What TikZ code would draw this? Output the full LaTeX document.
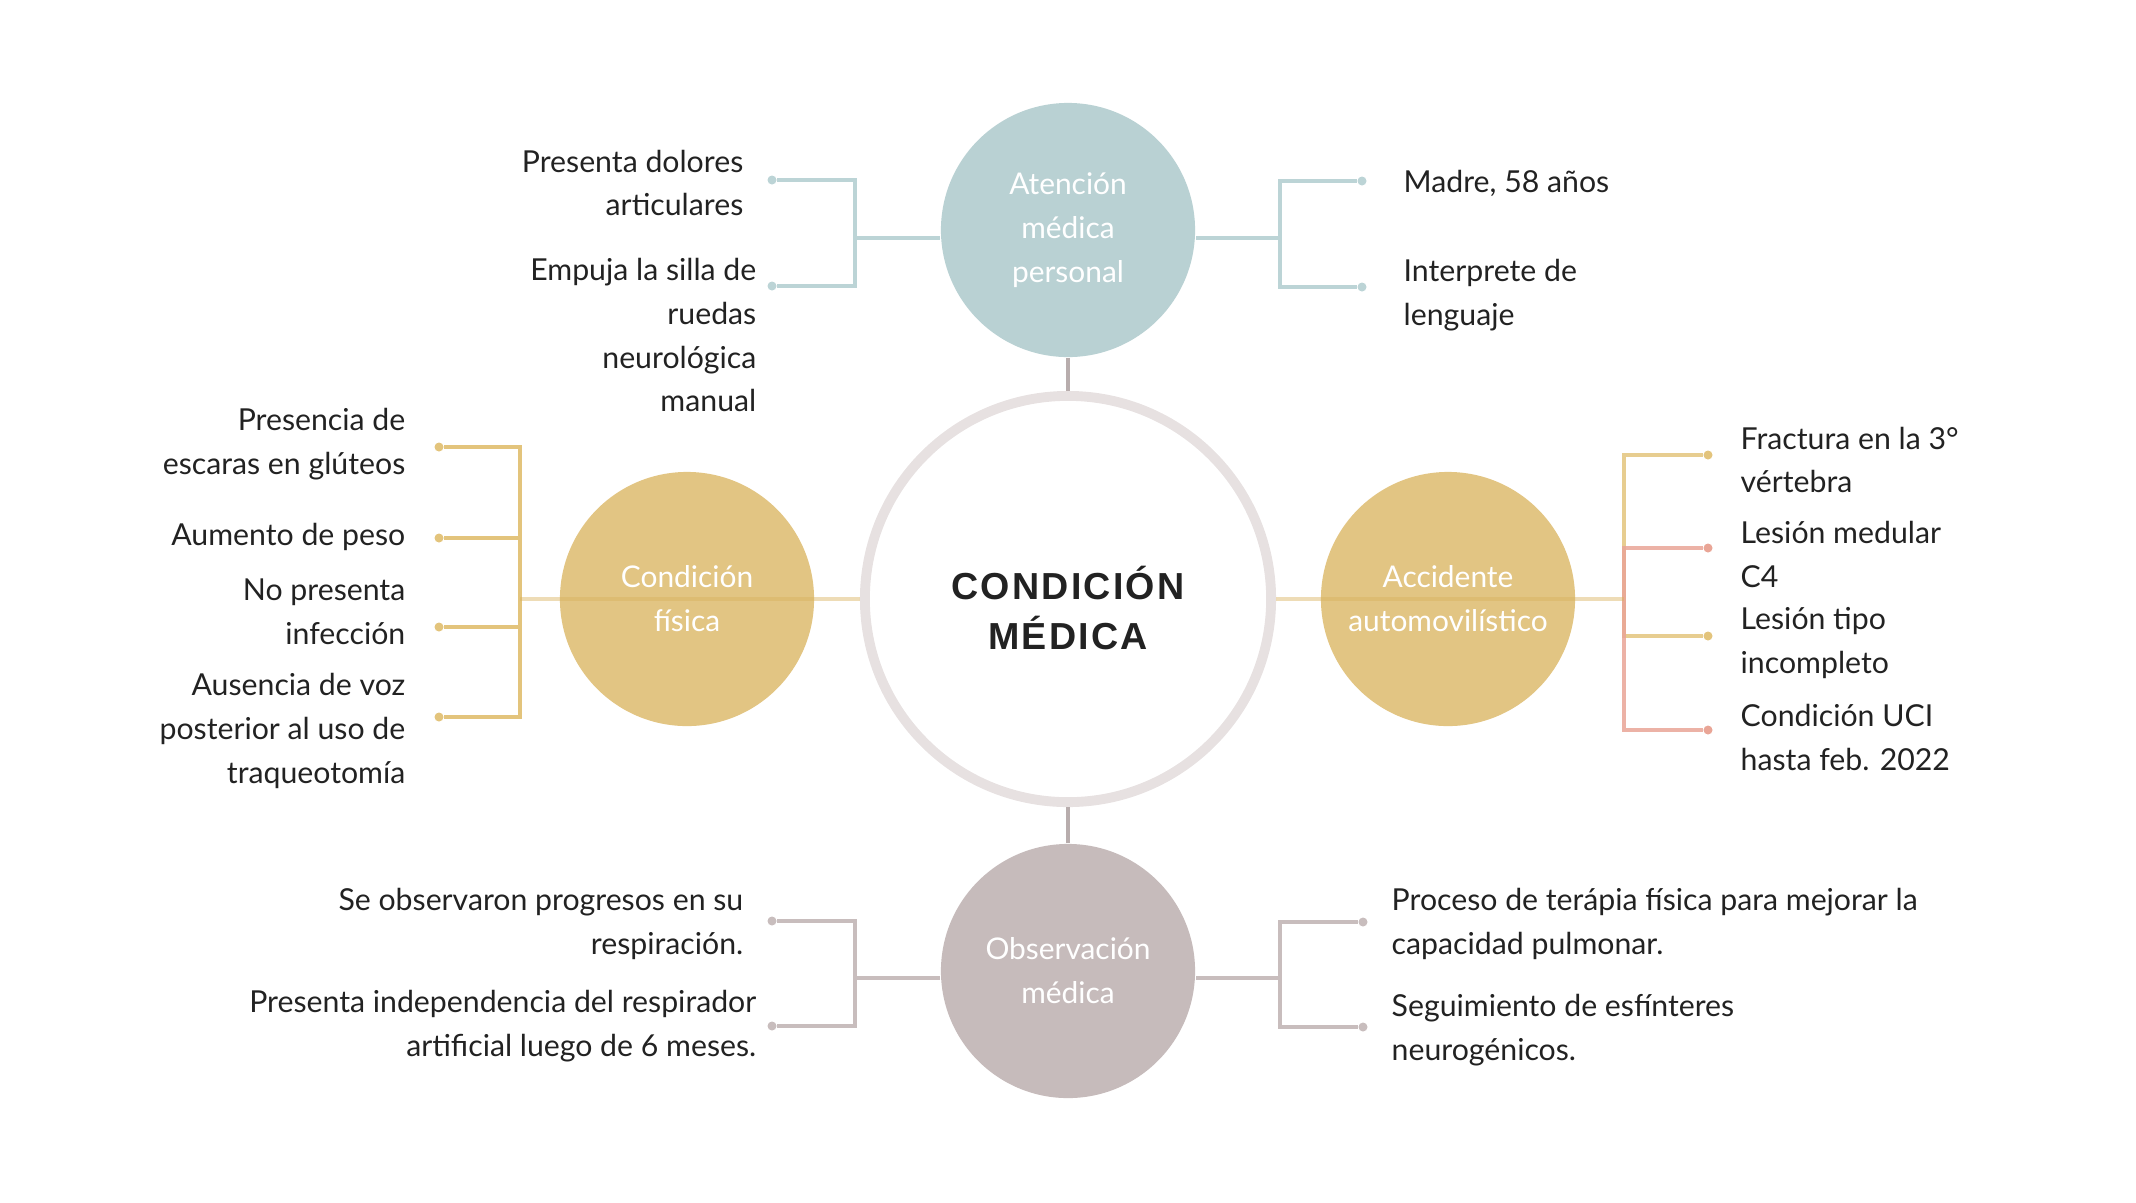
\documentclass[tikz,border=0pt]{standalone}
\usepackage{fontspec}
\setmainfont{Lato}
\newfontfamily\titlefont[LetterSpace=6]{Liberation Sans}
\definecolor{ink}{HTML}{222222}
\definecolor{tealfill}{HTML}{B9D1D3}
\definecolor{goldfill}{HTML}{E2C583}
\definecolor{mauvefill}{HTML}{C6BBBB}
\definecolor{ringcol}{HTML}{E7E1E1}
\definecolor{stemcol}{HTML}{B8ADAD}
\definecolor{tealline}{HTML}{BCD4D6}
\definecolor{goldline}{HTML}{E3C47C}
\definecolor{pinkline}{HTML}{E9A596}
\definecolor{paleline}{HTML}{D9B25E}
\definecolor{mauveline}{HTML}{C8BDBD}
\tikzset{
  bubble/.style={circle,fill=#1,minimum size=2.54cm,inner sep=0pt,text=white,align=center,font=\fontsize{8.5}{12.5}\selectfont},
  tipdot/.style={circle,fill=#1,minimum size=0.09cm,inner sep=0pt},
  leftnote/.style={anchor=east,align=right,inner sep=0pt,yshift=-0.85pt,text=ink,font=\fontsize{8.6}{12.5}\selectfont},
  rightnote/.style={anchor=west,align=left,inner sep=0pt,yshift=-0.85pt,text=ink,font=\fontsize{8.6}{12.5}\selectfont},
  branch/.style={draw=#1,line width=1.1pt},
}
\begin{document}
\begin{tikzpicture}[x=0.01cm,y=-0.01cm]
\useasboundingbox (0,0) rectangle (2136,1202);
\node[circle,draw=ringcol,line width=2.8pt,minimum size=4.06cm] at (1068,599) (cm) {};
\node[align=center,text=ink,font=\titlefont\bfseries\fontsize{10.7}{14}\selectfont] at (1068,608) (title) {CONDICIÓN\\MÉDICA};
\node[bubble=tealfill] at (1068,230) (att) {Atención\\médica\\personal};
\node[bubble=goldfill] at (687,599) (fis) {Condición\\física};
\node[bubble=goldfill] at (1448,599) (acc) {Accidente\\automovilístico};
\node[bubble=mauvefill] at (1068,971) (obs) {Observación\\médica};

\draw[branch=stemcol] (att) -- (cm) ;
\draw[branch=stemcol] (obs) -- (cm) ;

% atencion medica personal
\coordinate (tlbar) at (855,238);
\coordinate (trbar) at (1280,238);
\node[tipdot=tealline] at (772,180) (tl1) {};
\node[tipdot=tealline] at (772,286) (tl2) {};
\node[tipdot=tealline] at (1362,181) (tr1) {};
\node[tipdot=tealline] at (1362,287) (tr2) {};
\draw[branch=tealline] (tl1) -| (tlbar) |- (tl2) ;
\draw[branch=tealline] (tlbar) -- (tlbar -| att.west) ;
\draw[branch=tealline] (tr1) -| (trbar) |- (tr2) ;
\draw[branch=tealline] (trbar) -- (trbar -| att.east) ;
\node[leftnote] at (744,180) (tla) {Presenta dolores\\articulares};
\node[leftnote] at (757,332) (tlb) {Empuja la silla de\\ruedas\\neurológica\\manual};
\node[rightnote] at (1403,180) (tra) {Madre, 58 años};
\node[rightnote] at (1403,292) (trb) {Interprete de\\lenguaje};

% condicion fisica
\coordinate (flbar) at (520,599);
\node[tipdot=goldline] at (439,447) (fl1) {};
\node[tipdot=goldline] at (439,538) (fl2) {};
\node[tipdot=goldline] at (439,627) (fl3) {};
\node[tipdot=goldline] at (439,717) (fl4) {};
\draw[branch=goldline] (fl1) -| (flbar) |- (fl4) ;
\draw[branch=goldline] (fl2) -- (fl2 -| flbar) ;
\draw[branch=goldline] (fl3) -- (fl3 -| flbar) ;
\draw[branch=paleline,opacity=0.45] (flbar) -- (cm) ;
\node[leftnote] at (406,441) (fla) {Presencia de\\escaras en glúteos};
\node[leftnote] at (406,534) (flb) {Aumento de peso};
\node[leftnote] at (406,609) (flc) {No presenta\\infección};
\node[leftnote] at (406,728) (fld) {Ausencia de voz\\posterior al uso de\\traqueotomía};

% accidente automovilistico
\coordinate (rabar) at (1624,599);
\node[tipdot=goldline] at (1708,455) (ra1) {};
\node[tipdot=pinkline] at (1708,548) (ra2) {};
\node[tipdot=goldline] at (1708,636) (ra3) {};
\node[tipdot=pinkline] at (1708,730) (ra4) {};
\draw[branch=goldline,opacity=0.85] (ra1) -| (rabar) |- (ra3) ;
\draw[branch=pinkline,opacity=0.85] (ra2) -| (rabar) |- (ra4) ;
\draw[branch=paleline,opacity=0.45] (cm) -- (rabar) ;
\node[rightnote] at (1740,457) (raa) {Fractura en la 3°\\vértebra};
\node[rightnote] at (1740,551) (rab) {Lesión medular\\C4};
\node[rightnote] at (1740,640) (rac) {Lesión tipo\\incompleto};
\node[rightnote] at (1740,734) (rad) {Condición UCI\\hasta feb. 2022};

% observacion medica
\coordinate (blbar) at (855,978);
\coordinate (brbar) at (1280,978);
\node[tipdot=mauveline] at (772,921) (bl1) {};
\node[tipdot=mauveline] at (772,1026) (bl2) {};
\node[tipdot=mauveline] at (1363,922) (br1) {};
\node[tipdot=mauveline] at (1363,1027) (br2) {};
\draw[branch=mauveline] (bl1) -| (blbar) |- (bl2) ;
\draw[branch=mauveline] (blbar) -- (blbar -| obs.west) ;
\draw[branch=mauveline] (br1) -| (brbar) |- (br2) ;
\draw[branch=mauveline] (brbar) -- (brbar -| obs.east) ;
\node[leftnote] at (744,921) (bla) {Se observaron progresos en su\\respiración.};
\node[leftnote] at (757,1023) (blb) {Presenta independencia del respirador\\artificial luego de 6 meses.};
\node[rightnote] at (1391,921) (bra) {Proceso de terápia física para mejorar la\\capacidad pulmonar.};
\node[rightnote] at (1391,1027) (brb) {Seguimiento de esfínteres\\neurogénicos.};
\end{tikzpicture}
\end{document}
